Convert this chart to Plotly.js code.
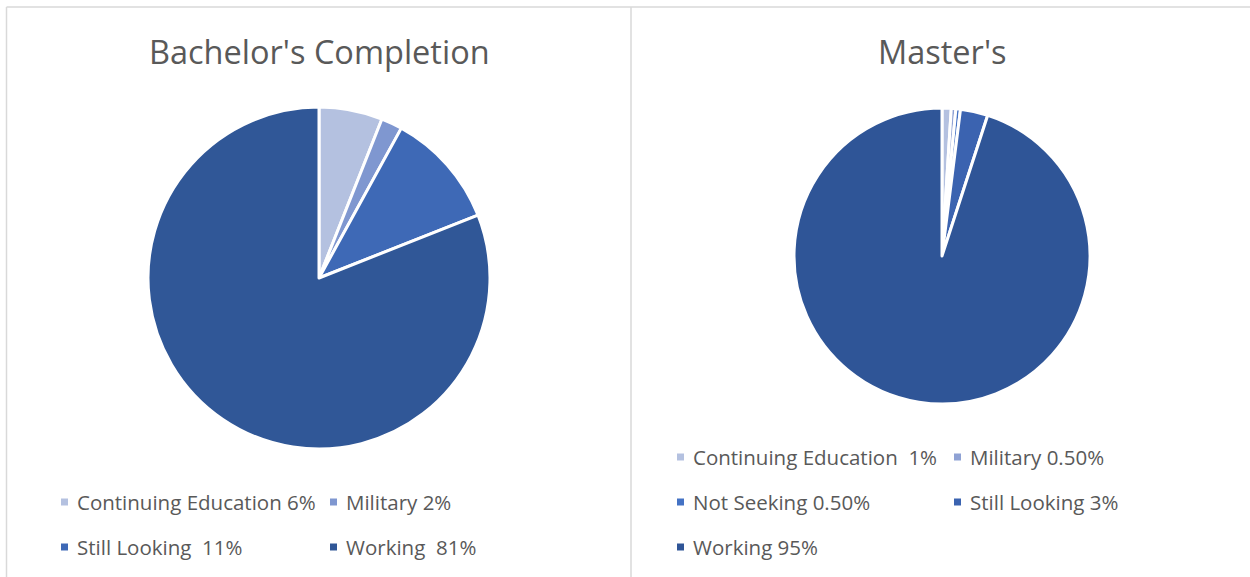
<!DOCTYPE html>
<html>
<head>
<meta charset="utf-8">
<script src="https://cdn.plot.ly/plotly-3.0.1.min.js"></script>
<style>html,body{margin:0;padding:0;background:#fff}#chart{width:1250px;height:577px}</style>
</head>
<body>
<div id="chart"></div>
<script>
// ---- data ----
const bachelorLabels = ["Continuing Education 6%", "Military 2%", "Still Looking  11%", "Working  81%"];
const bachelorValues = [6, 2, 11, 81];
const bachelorColors = ["#B4C1E0", "#7F97D0", "#3E69B6", "#305797"];

const masterLabels = ["Continuing Education  1%", "Military 0.50%", "Not Seeking 0.50%", "Still Looking 3%", "Working 95%"];
const masterValues = [1, 0.5, 0.5, 3, 95];
const masterColors = ["#B4C1E0", "#8FA2D4", "#4472C4", "#3B63B0", "#2F5597"];

const titles = ["Bachelor's Completion", "Master's"];

// ---- layout helpers ----
const W = 1250, H = 577;
const px = x => x / W;
const py = y => 1 - y / H;
const FONT = "Open Sans, Noto Sans, sans-serif";
const TXT = "#595959";

function pieTrace(labels, values, colors, cx, cy, r) {
  return {
    type: "pie", labels: labels, values: values, sort: false,
    direction: "clockwise", rotation: 0,
    marker: {colors: colors, line: {color: "#ffffff", width: 3}},
    textinfo: "none", hoverinfo: "label+value",
    domain: {x: [px(cx - r), px(cx + r)], y: [py(cy + r), py(cy - r)]},
    showlegend: false
  };
}

const traces = [
  pieTrace(bachelorLabels, bachelorValues, bachelorColors, 319, 278, 171),
  pieTrace(masterLabels, masterValues, masterColors, 942, 256, 148)
];

const annotations = [];
const shapes = [];

// titles
[[titles[0], 319], [titles[1], 942]].forEach(([t, x]) => {
  annotations.push({text: t, x: px(x), y: py(51), xref: "paper", yref: "paper",
    xanchor: "center", yanchor: "middle", showarrow: false,
    font: {family: FONT, size: 32.5, color: TXT}});
});

// legends
function legend(labels, colors, cols, rows) {
  labels.forEach((lab, i) => {
    const c = cols[i % 2], ry = rows[Math.floor(i / 2)];
    shapes.push({type: "rect", xref: "paper", yref: "paper",
      x0: px(c), x1: px(c + 7), y0: py(ry + 3.5), y1: py(ry - 3.5),
      fillcolor: colors[i], line: {width: 0}});
    annotations.push({text: lab, x: px(c + 14), y: py(ry), xref: "paper", yref: "paper",
      xanchor: "left", yanchor: "middle", showarrow: false,
      font: {family: FONT, size: 20.5, color: TXT}});
  });
}
legend(bachelorLabels, bachelorColors, [61, 330], [502, 547]);
legend(masterLabels, masterColors, [677, 954], [457, 502, 547]);

// frame lines
const lineStyle = {color: "#D9D9D9", width: 1.5};
shapes.push({type: "line", xref: "paper", yref: "paper", x0: px(6.5), x1: 1, y0: py(7), y1: py(7), line: lineStyle});
shapes.push({type: "line", xref: "paper", yref: "paper", x0: px(6.5), x1: px(6.5), y0: py(7), y1: 0, line: lineStyle});
shapes.push({type: "line", xref: "paper", yref: "paper", x0: px(631), x1: px(631), y0: py(7), y1: 0, line: lineStyle});

const layout = {
  width: W, height: H, margin: {l: 0, r: 0, t: 0, b: 0},
  paper_bgcolor: "#ffffff", plot_bgcolor: "#ffffff",
  showlegend: false, annotations: annotations, shapes: shapes,
  font: {family: FONT, color: TXT}
};

Plotly.newPlot("chart", traces, layout, {displayModeBar: false, staticPlot: true});
</script>
</body>
</html>
